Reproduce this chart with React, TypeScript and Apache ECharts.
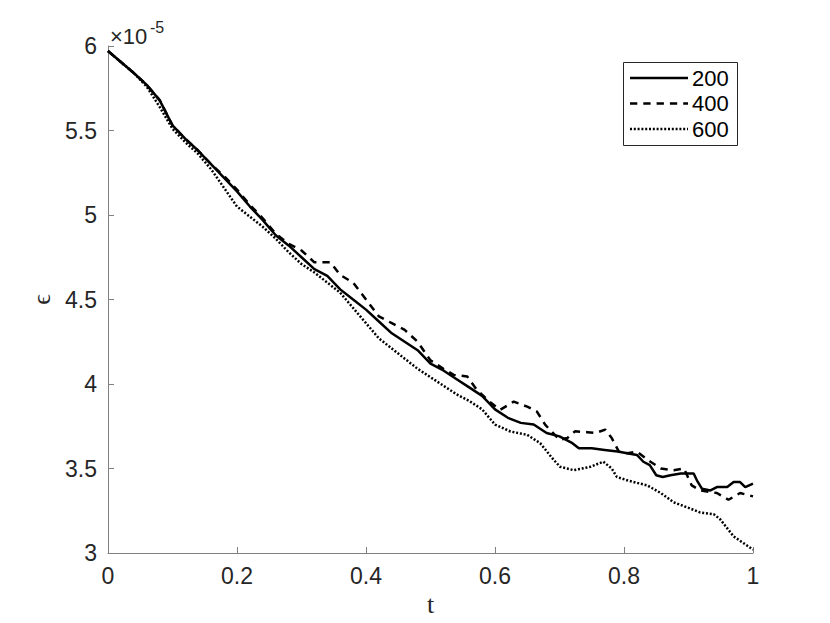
import React, { useEffect, useRef } from "react";
import * as echarts from "echarts";

const t200 = [
  0, 0.02, 0.04, 0.06, 0.08, 0.1, 0.12, 0.14, 0.16, 0.18, 0.2, 0.22, 0.24, 0.26,
  0.28, 0.3, 0.32, 0.34, 0.36, 0.38, 0.4, 0.42, 0.44, 0.46, 0.48, 0.5, 0.52,
  0.54, 0.56, 0.58, 0.6, 0.62, 0.64, 0.66, 0.68, 0.7, 0.72, 0.73, 0.75, 0.77,
  0.79, 0.805, 0.82, 0.83, 0.84, 0.85, 0.86, 0.872, 0.888, 0.908, 0.913, 0.921,
  0.934, 0.944, 0.96, 0.97, 0.98, 0.988, 1,
];
const eps200 = [
  5.97, 5.905, 5.84, 5.77, 5.68, 5.53, 5.45, 5.38, 5.3, 5.22, 5.14, 5.05, 4.97,
  4.88, 4.82, 4.75, 4.68, 4.64, 4.56, 4.5, 4.44, 4.37, 4.3, 4.25, 4.2, 4.12,
  4.08, 4.03, 3.98, 3.93, 3.85, 3.8, 3.77, 3.76, 3.71, 3.69, 3.65, 3.62, 3.62,
  3.61, 3.6, 3.59, 3.58, 3.54, 3.52, 3.46, 3.45, 3.46, 3.47, 3.47, 3.43, 3.38,
  3.37, 3.39, 3.39, 3.42, 3.42, 3.39, 3.41,
];

const t400 = [
  0, 0.02, 0.04, 0.06, 0.08, 0.1, 0.12, 0.14, 0.16, 0.18, 0.2, 0.22, 0.24, 0.26,
  0.28, 0.3, 0.32, 0.345, 0.36, 0.38, 0.4, 0.42, 0.44, 0.46, 0.48, 0.5, 0.52,
  0.536, 0.557, 0.572, 0.59, 0.608, 0.629, 0.65, 0.665, 0.678, 0.7, 0.712,
  0.724, 0.743, 0.756, 0.771, 0.781, 0.792, 0.805, 0.82, 0.841, 0.857, 0.877,
  0.893, 0.905, 0.918, 0.944, 0.962, 0.98, 1,
];
const eps400 = [
  5.97, 5.905, 5.84, 5.77, 5.68, 5.53, 5.45, 5.38, 5.3, 5.23, 5.15, 5.06, 4.98,
  4.89, 4.83, 4.79, 4.72, 4.72, 4.645, 4.6, 4.5, 4.4, 4.36, 4.32, 4.25, 4.14,
  4.09, 4.054, 4.044, 3.965, 3.9, 3.847, 3.896, 3.866, 3.837, 3.758, 3.67, 3.68,
  3.72, 3.715, 3.71, 3.73, 3.68, 3.6, 3.59, 3.6, 3.54, 3.5, 3.49, 3.5, 3.4,
  3.37, 3.355, 3.315, 3.355, 3.335,
];

const t600 = [
  0, 0.02, 0.04, 0.06, 0.08, 0.1, 0.12, 0.14, 0.16, 0.18, 0.2, 0.22, 0.24, 0.26,
  0.28, 0.3, 0.32, 0.34, 0.36, 0.38, 0.4, 0.42, 0.44, 0.46, 0.48, 0.5, 0.52,
  0.54, 0.56, 0.58, 0.6, 0.624, 0.65, 0.67, 0.691, 0.701, 0.722, 0.748, 0.768,
  0.781, 0.789, 0.805, 0.836, 0.857, 0.877, 0.898, 0.918, 0.939, 0.949, 0.97,
  0.985, 1,
];
const eps600 = [
  5.97, 5.905, 5.84, 5.76, 5.64, 5.51, 5.43, 5.36, 5.27, 5.16, 5.05, 4.99, 4.93,
  4.86, 4.78, 4.71, 4.66, 4.6, 4.54, 4.45, 4.36, 4.27, 4.21, 4.15, 4.09, 4.04,
  3.99, 3.94, 3.9, 3.85, 3.76, 3.719, 3.699, 3.65, 3.551, 3.51, 3.49, 3.51, 3.54,
  3.5, 3.45, 3.43, 3.4, 3.355, 3.3, 3.27, 3.24, 3.23, 3.2, 3.098, 3.059, 3.02,
];

const seriesNames = ["200", "400", "600"];
const scaleText = "×10";
const scaleExponent = "-5";
const xName = "t";
const yName = "ϵ";

const SANS = "'Liberation Sans', Arial, Helvetica, sans-serif";
const SERIF = "'Liberation Serif', 'DejaVu Serif', serif";
const TXT = "#262626";
const AXIS = "#808080";

export default function App() {
  const ref = useRef<HTMLDivElement>(null);
  useEffect(() => {
    if (!ref.current) return;
    const chart = echarts.init(ref.current, null, { renderer: "svg" });
    const mk = (ts: number[], vals: number[]) => ts.map((t, i) => [t, vals[i]]);
    const dashes: any[] = [null, [7.3, 6], [2, 1.8]];
    const lineTypes: any[] = ["solid", [7.3, 6], [2, 1.8]];
    const data = [mk(t200, eps200), mk(t400, eps400), mk(t600, eps600)];
    const legendX = 623;
    const legendY = 62;
    const rowY = [78, 103.5, 129];
    const legendGraphics: any[] = [
      {
        type: "rect",
        shape: { x: legendX + 0.5, y: legendY + 0.5, width: 114, height: 83 },
        style: { fill: "#fff", stroke: "#262626", lineWidth: 1 },
        z: 10,
      },
    ];
    seriesNames.forEach((n, i) => {
      legendGraphics.push({
        type: "line",
        shape: { x1: 630, y1: rowY[i], x2: 688, y2: rowY[i] },
        style: { stroke: "#000", lineWidth: 2.4, lineDash: dashes[i] || undefined },
        z: 11,
      });
      legendGraphics.push({
        type: "text",
        x: 692,
        y: rowY[i],
        style: {
          text: n,
          fill: "#000",
          font: `22px ${SANS}`,
          align: "left",
          verticalAlign: "middle",
        },
        z: 11,
      });
    });
    chart.setOption({
      animation: false,
      backgroundColor: "#ffffff",
      grid: { left: 108, top: 46, right: 77, bottom: 70, containLabel: false },
      xAxis: {
        type: "value",
        min: 0,
        max: 1,
        interval: 0.2,
        name: xName,
        nameLocation: "middle",
        nameGap: 36,
        nameTextStyle: { color: TXT, fontSize: 26, fontFamily: SERIF },
        axisLine: { show: true, onZero: false, lineStyle: { color: AXIS, width: 1 } },
        axisTick: { show: true, inside: true, length: 6, lineStyle: { color: AXIS } },
        axisLabel: { color: TXT, fontSize: 23, fontFamily: SANS, margin: 11 },
        splitLine: { show: false },
      },
      yAxis: {
        type: "value",
        min: 3,
        max: 6,
        interval: 0.5,
        name: yName,
        nameLocation: "middle",
        nameRotate: 90,
        nameGap: 52,
        nameTextStyle: { color: TXT, fontSize: 26, fontFamily: SERIF },
        axisLine: { show: true, onZero: false, lineStyle: { color: AXIS, width: 1 } },
        axisTick: { show: true, inside: true, length: 6, lineStyle: { color: AXIS } },
        axisLabel: { color: TXT, fontSize: 23, fontFamily: SANS, margin: 11 },
        splitLine: { show: false },
      },
      series: data.map((d, i) => ({
        name: seriesNames[i],
        type: "line",
        data: d,
        showSymbol: false,
        symbol: "none",
        lineStyle: { color: "#000", width: 2.5, type: lineTypes[i] },
        itemStyle: { color: "#000" },
      })),
      graphic: [
        {
          type: "text",
          x: 110,
          y: 36.5,
          style: {
            text: scaleText,
            fill: TXT,
            font: `22px ${SANS}`,
            align: "left",
            verticalAlign: "middle",
          },
        },
        {
          type: "text",
          x: 150,
          y: 27,
          style: {
            text: scaleExponent,
            fill: TXT,
            font: `16px ${SANS}`,
            align: "left",
            verticalAlign: "middle",
          },
        },
        ...legendGraphics,
      ],
    });
    return () => chart.dispose();
  }, []);
  return (
    <div
      ref={ref}
      style={{ position: "fixed", left: 0, top: 0, width: 830, height: 623, background: "#fff" }}
    />
  );
}
